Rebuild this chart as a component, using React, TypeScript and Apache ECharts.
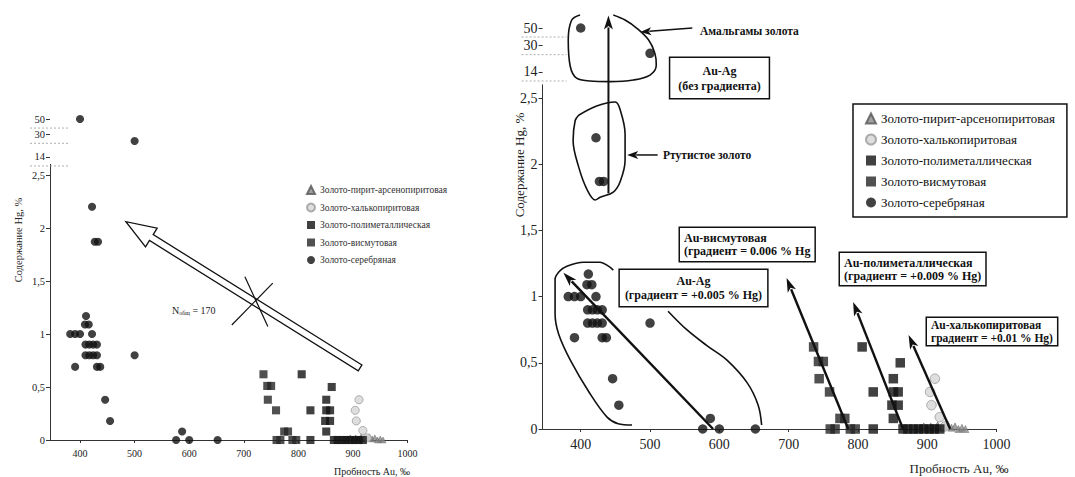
import React, { useEffect, useRef } from 'react';
import * as echarts from 'echarts';

const SERIF = '"Liberation Serif", "DejaVu Serif", serif';

const seriesNames = [
  'Золото-пирит-арсенопиритовая',
  'Золото-халькопиритовая',
  'Золото-полиметаллическая',
  'Золото-висмутовая',
  'Золото-серебряная',
];

const xTickValues = [400, 500, 600, 700, 800, 900, 1000];
const yTickValues = [0, 0.5, 1, 1.5, 2, 2.5];
const yHighTickValues = [14, 30, 50];

const silverMain = [
  [382, 1.0], [391, 1.0], [400, 1.0], [422, 1.0],
  [411, 1.17], [409, 1.09], [416, 1.09],
  [410, 0.9], [417, 0.9], [424, 0.9], [431, 0.9],
  [410, 0.8], [417, 0.8], [424, 0.8], [431, 0.8],
  [391, 0.69], [431, 0.69], [437, 0.69],
  [500, 0.8], [446, 0.38], [455, 0.18],
  [576, 0], [587, 0.08], [600, 0], [652, 0],
  [422, 2.2], [427, 1.87], [433, 1.87],
];
const silverHigh = [[400, 50], [500, 24]];
const bismuth = [
  [736, 0.62], [743, 0.51], [750, 0.51], [744, 0.38], [759, 0.28],
  [774, 0.08], [781, 0.08], [760, 0], [767, 0], [789, 0], [796, 0],
];
const polymetal = [
  [806, 0.62], [822, 0.28], [822, 0], [861, 0.5], [851, 0.38],
  [851, 0.28], [858, 0.28], [849, 0.18], [858, 0.18], [851, 0.08],
  [865, 0], [872, 0], [880, 0], [887, 0], [895, 0], [903, 0], [910, 0], [918, 0],
];
const chalco = [[911, 0.38], [904, 0.28], [906, 0.18], [918, 0.09], [926, 0.02]];
const pyrite = [
  [890, 0.01], [895, 0.02], [900, 0], [905, 0.02], [910, 0.01], [915, 0.03], [920, 0.01],
  [925, 0.02], [930, 0.03], [935, 0.01], [940, 0.02], [945, 0], [950, 0.01], [955, 0],
];

// hand-drawn outlines on the right chart (data coordinates)
const outlineAgLeft = [
  [474, 0.03], [454, 0.04], [438, 0.09], [413, 0.27], [385, 0.52], [368, 0.72], [363, 0.87],
  [363, 1.13], [369, 1.19], [380, 1.23], [404, 1.26], [428, 1.26], [440, 1.23], [447, 1.2],
];
const outlineAgRight = [
  [526, 0.89], [553, 0.75], [582, 0.63], [611, 0.52], [640, 0.35], [656, 0.18], [661, 0.03],
];
const outlineMercury = [
  [397, 2.37], [423, 2.44], [450, 2.47], [457, 2.41], [464, 2.23], [464, 2.03], [457, 1.87],
  [447, 1.79], [428, 1.75], [421, 1.73], [409, 1.81], [397, 1.98], [389, 2.18], [392, 2.33], [397, 2.37],
];
const outlineAmalgam = [
  [399, 72.9], [387, 63], [382, 35.3], [385, 16.3], [394, 11.7], [413, 10.8], [442, 10.6],
  [476, 11.1], [500, 12.8], [509, 17.1], [507, 24], [498, 35.3], [481, 49.6], [464, 63], [447, 72.9],
];

// gradient arrows on the right chart: [tail, head]
const gradientArrows = [
  [[591, 0], [375, 1.18]],
  [[786, 0], [697, 1.14]],
  [[865, 0], [793, 0.96]],
  [[933, 0], [873, 0.71]],
];
// left chart annotations
const leftTrendArrow = [[913, 0.68], [484, 2.06]];
const leftCross = [
  [[678, 1.085], [753, 1.48]],
  [[702, 1.54], [744, 1.07]],
];

const fmt = (v: number) => String(v).replace('.', ',');

function xAxes(grid: number, fontSize: number, visible: boolean) {
  return {
    type: 'value', gridIndex: grid, min: 345, max: 1000, show: visible,
    axisLine: { show: true, onZero: false, lineStyle: { color: '#333', width: 1 } },
    axisTick: { show: true, customValues: xTickValues, length: 3, lineStyle: { color: '#333' } },
    axisLabel: { customValues: xTickValues, formatter: (v: number) => String(v), fontSize, fontFamily: SERIF, color: '#222', margin: 8 },
    splitLine: { show: false },
  };
}
function yMain(grid: number, fontSize: number) {
  return {
    type: 'value', gridIndex: grid, min: 0, max: 2.6,
    axisLine: { show: true, onZero: false, lineStyle: { color: '#333', width: 1 } },
    axisTick: { show: true, customValues: yTickValues, length: 4, lineStyle: { color: '#333' } },
    axisLabel: { customValues: yTickValues, formatter: fmt, fontSize, fontFamily: SERIF, color: '#222', margin: 5 },
    splitLine: { show: false },
  };
}
function yHigh(grid: number, fontSize: number) {
  return {
    type: 'log', logBase: 10, gridIndex: grid, min: 10, max: 75,
    axisLine: { show: false, onZero: false },
    axisTick: { show: true, customValues: yHighTickValues, length: 4, lineStyle: { color: '#333' } },
    axisLabel: { customValues: yHighTickValues, formatter: (v: number) => String(Math.round(v)), fontSize, fontFamily: SERIF, color: '#222', margin: 5 },
    splitLine: { show: false },
  };
}

function groupSeries(main: number, top: number, s: number) {
  const base = { type: 'scatter', xAxisIndex: main, yAxisIndex: main };
  return [
    { ...base, name: seriesNames[0], data: pyrite, symbol: 'triangle', symbolSize: 7 * s, itemStyle: { color: '#8a8a8a', borderColor: '#555', borderWidth: 0.5 } },
    { ...base, name: seriesNames[1], data: chalco, symbol: 'circle', symbolSize: 9.5 * s, itemStyle: { color: '#d6d6d6', borderColor: '#9a9a9a', borderWidth: 1 } },
    { ...base, name: seriesNames[2], data: polymetal, symbol: 'rect', symbolSize: 9.5 * s, itemStyle: { color: '#111' } },
    { ...base, name: seriesNames[3], data: bismuth, symbol: 'rect', symbolSize: 9.5 * s, itemStyle: { color: '#262626' } },
    { ...base, name: seriesNames[4], data: silverMain, symbol: 'circle', symbolSize: 9.5 * s, itemStyle: { color: '#111' } },
    { type: 'scatter', xAxisIndex: top, yAxisIndex: top, name: seriesNames[4], data: silverHigh, symbol: 'circle', symbolSize: 9.5 * s, itemStyle: { color: '#111' } },
  ];
}

function outline(axis: number, data: number[][]) {
  return {
    type: 'line', xAxisIndex: axis, yAxisIndex: axis, data, smooth: 0.35, showSymbol: false,
    silent: true, clip: false, lineStyle: { color: '#111', width: 1.6 }, z: 1,
  };
}

function solidArrow(a: number[], b: number[], lw: number, hl: number, hw: number) {
  const dx = b[0] - a[0], dy = b[1] - a[1], L = Math.hypot(dx, dy);
  const ux = dx / L, uy = dy / L, nx = -uy, ny = ux;
  const bx = b[0] - ux * hl, by = b[1] - uy * hl;
  return [
    { type: 'line', z: 30, shape: { x1: a[0], y1: a[1], x2: bx + ux * 2, y2: by + uy * 2 }, style: { stroke: '#111', lineWidth: lw } },
    { type: 'polygon', z: 30, shape: { points: [b, [bx + nx * hw, by + ny * hw], [b[0] - ux * hl * 0.75, b[1] - uy * hl * 0.75], [bx - nx * hw, by - ny * hw]] }, style: { fill: '#111' } },
  ];
}

function hollowArrow(a: number[], b: number[], sw: number, hl: number, hw: number) {
  const dx = b[0] - a[0], dy = b[1] - a[1], L = Math.hypot(dx, dy);
  const ux = dx / L, uy = dy / L, nx = -uy, ny = ux;
  const bx = b[0] - ux * hl, by = b[1] - uy * hl;
  const pts = [
    [a[0] + nx * sw, a[1] + ny * sw], [bx + nx * sw, by + ny * sw], [bx + nx * hw, by + ny * hw], b,
    [bx - nx * hw, by - ny * hw], [bx - nx * sw, by - ny * sw], [a[0] - nx * sw, a[1] - ny * sw],
  ];
  return { type: 'polygon', z: 20, shape: { points: pts }, style: { fill: '#fff', stroke: '#111', lineWidth: 1.3 } };
}

function textBox(x: number, y: number, text: string, align: string, lh: number, pad: number[], size = 12) {
  return {
    type: 'text', x, y, z: 50,
    style: {
      text, fontSize: size, fontWeight: 'bold', fontFamily: SERIF, fill: '#111', align, verticalAlign: 'top',
      lineHeight: lh, backgroundColor: '#fff', borderColor: '#111', borderWidth: 1.5, padding: pad,
    },
  };
}

function plainText(x: number, y: number, text: string, size: number, opts: any = {}) {
  return {
    type: 'text', x, y, z: 40, rotation: opts.rotation || 0,
    style: {
      text, fontSize: size, fontFamily: SERIF, fontWeight: opts.bold ? 'bold' : 'normal', fill: opts.fill || '#222',
      align: opts.align || 'left', verticalAlign: 'middle', rich: opts.rich,
    },
  };
}

export default function App() {
  const ref = useRef<HTMLDivElement>(null);
  useEffect(() => {
    if (!ref.current) return;
    const chart = echarts.init(ref.current, null, { renderer: 'svg' });
    const option: any = {
      animation: false,
      backgroundColor: '#ffffff',
      textStyle: { fontFamily: SERIF },
      grid: [
        { left: 50, top: 164.4, width: 357.6, height: 275.6, outerBoundsMode: 'none', containLabel: false },
        { left: 50, top: 107, width: 357.6, height: 60, outerBoundsMode: 'none', containLabel: false },
        { left: 542.6, top: 84.8, width: 454, height: 344.2, outerBoundsMode: 'none', containLabel: false },
        { left: 542.6, top: 14, width: 454, height: 69.6, outerBoundsMode: 'none', containLabel: false },
      ],
      xAxis: [xAxes(0, 10, true), xAxes(1, 10, false), xAxes(2, 14, true), xAxes(3, 14, false)],
      yAxis: [yMain(0, 10.5), yHigh(1, 10.5), yMain(2, 14), yHigh(3, 14)],
      legend: [
        {
          data: seriesNames, orient: 'vertical', left: 306, top: 185, itemWidth: 8, itemHeight: 8, itemGap: 7.5,
          selectedMode: false, padding: 0,
          formatter: '{t|{name}}',
          textStyle: {
            fontSize: 9.5, lineHeight: 10, fontFamily: 'Liberation Serif', color: '#333',
            rich: { t: { fontSize: 9.5, lineHeight: 10, fontFamily: 'Liberation Serif', color: '#333' } },
          },
        },
        {
          data: seriesNames, orient: 'vertical', left: 853, top: 104, itemWidth: 10, itemHeight: 10, itemGap: 8,
          selectedMode: false, padding: [8, 12, 8, 12], borderColor: '#111', borderWidth: 1.5, backgroundColor: '#fff',
          formatter: '{t|{name}}',
          textStyle: {
            fontSize: 13, lineHeight: 13, fontFamily: 'Liberation Serif', color: '#111',
            rich: { t: { fontSize: 13, lineHeight: 13, fontFamily: 'Liberation Serif', color: '#111' } },
          },
        },
      ],
      series: [
        ...groupSeries(0, 1, 0.85),
        ...groupSeries(2, 3, 1),
        outline(2, outlineAgLeft),
        outline(2, outlineAgRight),
        outline(2, outlineMercury),
        outline(3, outlineAmalgam),
      ],
    };
    chart.setOption(option);

    const px = (g: number, p: number[]) => chart.convertToPixel({ gridIndex: g } as any, p) as number[];
    const g: any[] = [];

    // break marks under top labels
    const breaks: [number, number, number][] = [[1, -20, 20], [3, -21, 24]];
    breaks.forEach(([gi, l, r]) => {
      yHighTickValues.forEach((v) => {
        const p = px(gi, [345, v]);
        g.push({ type: 'line', z: 5, shape: { x1: p[0] + l, y1: p[1] + 9, x2: p[0] + r, y2: p[1] + 9 }, style: { stroke: '#999', lineWidth: 0.8, lineDash: [2, 2] } });
      });
    });

    // left chart annotations
    g.push(hollowArrow(px(0, leftTrendArrow[0]), px(0, leftTrendArrow[1]), 3.5, 30, 11));
    leftCross.forEach(([a, b]) => {
      const p1 = px(0, a), p2 = px(0, b);
      g.push({ type: 'line', z: 25, shape: { x1: p1[0], y1: p1[1], x2: p2[0], y2: p2[1] }, style: { stroke: '#111', lineWidth: 1.2 } });
    });
    g.push(plainText(172, 310, '{n|N}{s|общ}{n| = 170}', 10, {
      rich: { n: { fontSize: 10, fontFamily: SERIF, fill: '#222' }, s: { fontSize: 6, fontFamily: SERIF, fill: '#222', padding: [5, 0, 0, 0] } },
    }));
    g.push(plainText(18, 240, 'Содержание Hg, %', 10.5, { align: 'center', rotation: Math.PI / 2 }));
    g.push(plainText(372, 471, 'Пробность Au, ‰', 10, { align: 'center' }));

    // right chart annotations
    gradientArrows.forEach(([a, b]) => g.push(...solidArrow(px(2, a), px(2, b), 2.4, 14, 4.5)));
    g.push(...solidArrow(px(2, [440, 1.78]), px(3, [440, 72]), 2, 14, 4.5));
    g.push(...solidArrow(px(3, [561, 50]), px(3, [486, 44.5]), 1.5, 11, 4));
    g.push(...solidArrow(px(2, [511, 2.07]), px(2, [467, 2.07]), 1.5, 11, 4));
    g.push(plainText(700, 31, 'Амальгамы золота', 11.5, { bold: true, fill: '#111' }));
    g.push(plainText(663, 155, 'Ртутистое золото', 11.5, { bold: true, fill: '#111' }));
    g.push(textBox(719.5, 58, 'Au-Ag\n(без градиента)', 'center', 15, [5, 8]));
    g.push(textBox(693.5, 270, 'Au-Ag\n(градиент = +0.005 % Hg)', 'center', 14, [4, 5]));
    g.push(textBox(680, 228, 'Au-висмутовая\n(градиент = 0.006 % Hg', 'left', 13.5, [3, 4]));
    g.push(textBox(840, 253, 'Au-полиметаллическая\n(градиент = +0.009 % Hg)', 'left', 13, [3, 4]));
    g.push(textBox(927, 318, 'Au-халькопиритовая\nградиент = +0.01 % Hg)', 'left', 12.5, [1, 4], 11.5));
    g.push(plainText(519, 165, 'Содержание Hg, %', 13, { align: 'center', rotation: Math.PI / 2 }));
    g.push(plainText(959, 468, 'Пробность Au, ‰', 13, { align: 'center' }));

    chart.setOption({ graphic: g });
    return () => chart.dispose();
  }, []);
  return <div ref={ref} style={{ position: 'absolute', left: 0, top: 0, width: 1075, height: 477 }} />;
}
